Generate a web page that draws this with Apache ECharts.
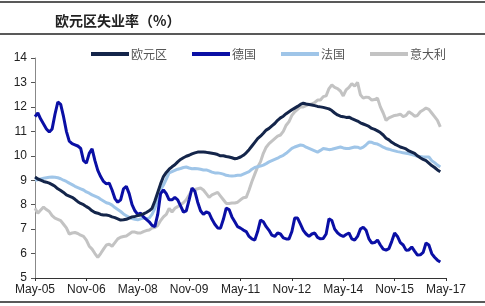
<!DOCTYPE html>
<html>
<head>
<meta charset="utf-8">
<script src="https://cdn.jsdelivr.net/npm/echarts@6/dist/echarts.min.js"></script>
<style>
  html, body { margin: 0; padding: 0; background: #fff; }
  #chart { width: 485px; height: 306px; }
</style>
</head>
<body>
<div id="chart"></div>
<script>
// 月度数据：2005年5月 起
const tickLabels = ['May-05', 'Nov-06', 'May-08', 'Nov-09', 'May-11', 'Nov-12', 'May-14', 'Nov-15', 'May-17']
const seriesNames = ['欧元区', '德国', '法国', '意大利']

const euroArea = [
  9.13, 9.05, 9.0, 8.95, 8.92, 8.88, 8.82, 8.75, 8.65, 8.58, 8.5, 8.4, 8.35, 8.3, 8.22, 8.12, 8.05, 8.0, 7.92, 7.85,
  7.75, 7.68, 7.65, 7.6, 7.58, 7.58, 7.55, 7.5, 7.47, 7.42, 7.37, 7.38, 7.4, 7.45, 7.5, 7.52, 7.55, 7.58, 7.62, 7.68,
  7.75, 7.85, 8.15, 8.5, 8.85, 9.15, 9.32, 9.45, 9.55, 9.63, 9.75, 9.85, 9.92, 9.98, 10.02, 10.08, 10.12, 10.15, 10.15, 10.15,
  10.14, 10.12, 10.1, 10.08, 10.05, 10.0, 10.0, 9.97, 9.95, 9.92, 9.88, 9.9, 9.95, 10.02, 10.12, 10.25, 10.4, 10.55, 10.7, 10.8,
  10.92, 11.05, 11.12, 11.22, 11.32, 11.45, 11.55, 11.62, 11.72, 11.8, 11.88, 11.95, 12.02, 12.1, 12.15, 12.12, 12.1, 12.08, 12.05, 12.02,
  12.0, 11.98, 11.95, 11.92, 11.85, 11.75, 11.67, 11.62, 11.6, 11.57, 11.58, 11.52, 11.47, 11.42, 11.35, 11.3, 11.25, 11.2, 11.12, 11.08,
  11.02, 10.95, 10.85, 10.72, 10.65, 10.55, 10.48, 10.42, 10.36, 10.32, 10.28, 10.2, 10.15, 10.1, 10.0, 9.92, 9.85, 9.8, 9.7, 9.6,
  9.52, 9.42, 9.35
]

const germany = [
  11.6, 11.75, 11.5, 11.3, 11.1, 10.97, 11.1, 11.7, 12.2, 12.1, 11.6, 11.0, 10.6, 10.5, 10.45, 10.4, 10.3, 9.8, 9.7, 10.1,
  10.28, 9.8, 9.4, 9.15, 8.95, 8.85, 8.88, 8.6, 8.25, 8.1, 8.2, 8.65, 8.75, 8.45, 8.0, 7.75, 7.6, 7.65, 7.5, 7.4,
  7.3, 7.15, 7.1, 7.6, 8.45, 8.6, 8.45, 8.2, 8.2, 8.3, 8.2, 7.95, 7.7, 7.75, 8.2, 8.68, 8.55, 8.1, 7.75, 7.6,
  7.7, 7.65, 7.4, 7.2, 7.05, 7.04, 7.4, 7.86, 7.8, 7.5, 7.3, 7.1, 7.04, 6.96, 6.9, 6.7, 6.6, 6.55, 6.9, 7.37,
  7.3, 7.1, 6.95, 6.75, 6.7, 6.84, 6.8, 6.64, 6.6, 6.6, 6.9, 7.45, 7.45, 7.2, 6.95, 6.8, 6.7, 6.8, 6.84, 6.66,
  6.6, 6.62, 6.8, 7.42, 7.35, 7.0, 6.85, 6.75, 6.7, 6.78, 6.84, 6.6, 6.55, 6.7, 7.0, 7.08, 6.95, 6.6, 6.43, 6.45,
  6.55, 6.35, 6.18, 6.14, 6.2, 6.5, 6.84, 6.7, 6.45, 6.35, 6.14, 6.15, 6.27, 6.1, 5.94, 5.95, 6.05, 6.43, 6.35, 6.0,
  5.85, 5.73, 5.65
]

const france = [
  9.0, 9.02, 9.05, 9.08, 9.1, 9.12, 9.13, 9.12, 9.1, 9.06, 9.0, 8.95, 8.88, 8.82, 8.75, 8.7, 8.65, 8.6, 8.52, 8.47,
  8.4, 8.35, 8.3, 8.22, 8.15, 8.08, 8.05, 7.98, 7.88, 7.8, 7.72, 7.62, 7.55, 7.48, 7.43, 7.4, 7.38, 7.42, 7.45, 7.43,
  7.45, 7.6, 7.85, 8.2, 8.6, 8.8, 9.05, 9.3, 9.35, 9.4, 9.45, 9.48, 9.52, 9.54, 9.5, 9.47, 9.48, 9.47, 9.45, 9.42,
  9.42, 9.38, 9.33, 9.3, 9.3, 9.28, 9.25, 9.2, 9.18, 9.17, 9.18, 9.2, 9.2, 9.25, 9.3, 9.35, 9.45, 9.52, 9.55, 9.58,
  9.62, 9.68, 9.75, 9.8, 9.85, 9.9, 9.97, 10.02, 10.1, 10.2, 10.3, 10.36, 10.4, 10.44, 10.42, 10.35, 10.3, 10.25, 10.2, 10.15,
  10.22, 10.3, 10.28, 10.25, 10.27, 10.3, 10.33, 10.36, 10.32, 10.3, 10.3, 10.33, 10.36, 10.35, 10.3, 10.35, 10.45, 10.56, 10.55, 10.5,
  10.48, 10.42, 10.35, 10.3, 10.27, 10.23, 10.2, 10.17, 10.15, 10.12, 10.1, 10.08, 10.05, 10.02, 9.98, 9.97, 9.95, 9.95, 9.95, 9.8,
  9.72, 9.62, 9.54
]

const italy = [
  7.85, 7.65, 7.78, 7.9, 7.8, 7.72, 7.55, 7.45, 7.4, 7.35, 7.2, 7.05, 6.8, 6.84, 6.86, 6.82, 6.75, 6.7, 6.55, 6.3,
  6.18, 6.0, 5.84, 6.0, 6.18, 6.35, 6.38, 6.3, 6.45, 6.6, 6.67, 6.7, 6.72, 6.8, 6.88, 6.88, 6.84, 6.84, 6.9, 6.94,
  6.96, 7.04, 7.06, 7.15, 7.35, 7.5, 7.6, 7.85, 7.7, 7.85, 7.92, 8.0, 8.08, 8.2, 8.4, 8.6, 8.62, 8.65, 8.68, 8.6,
  8.45, 8.3, 8.4, 8.45, 8.5, 8.35, 8.2, 8.05, 8.05, 8.07, 8.07, 8.1, 8.2, 8.28, 8.3, 8.6, 8.95, 9.25, 9.54, 9.75,
  10.1, 10.35, 10.5, 10.6, 10.7, 10.8, 10.85, 11.0, 11.25, 11.4, 11.65, 11.8, 11.9, 12.0, 12.0, 12.05, 12.1, 12.12, 12.18, 12.28,
  12.28, 12.42, 12.45, 12.75, 12.9, 12.8, 12.75, 12.65, 12.45, 12.7, 12.8, 12.95, 12.85, 13.0, 12.5, 12.36, 12.4, 12.38, 12.28, 12.3,
  12.36, 12.0, 11.75, 11.45, 11.55, 11.6, 11.65, 11.67, 11.7, 11.6, 11.65, 11.8, 11.72, 11.62, 11.65, 11.8, 11.87, 11.95, 11.9, 11.75,
  11.6, 11.45, 11.18
]

// 月份类目（May-05 ~ May-17）
const monthAbbr = ['Jan', 'Feb', 'Mar', 'Apr', 'May', 'Jun', 'Jul', 'Aug', 'Sep', 'Oct', 'Nov', 'Dec']
const months = []
for (let i = 0; i <= 144; i++) {
  const k = 4 + i
  const yy = 5 + Math.floor(k / 12)
  months.push(monthAbbr[k % 12] + '-' + String(yy).padStart(2, '0'))
}

// 欧元区 / 德国 / 法国 / 意大利
const colors = ['#14254a', '#0a0fa5', '#9fc5e8', '#c3c3c3']
const font = 'Liberation Sans, Arial, sans-serif'

function lineSeries(idx, data, z) {
  return {
    name: seriesNames[idx],
    type: 'line',
    data: data,
    z: z,
    showSymbol: false,
    symbol: 'none',
    itemStyle: { color: colors[idx] },
    lineStyle: { width: 3, color: colors[idx] }
  }
}

const myChart = echarts.init(document.getElementById('chart'))
const option = {
  backgroundColor: '#fff',
  animation: false,
  title: {
    text: '欧元区失业率（%）',
    left: 50,
    top: 9,
    textStyle: {
      fontFamily: 'Noto Sans CJK SC',
      fontSize: 14,
      fontWeight: 'bold',
      color: '#222'
    }
  },
  graphic: [
    { type: 'line', shape: { x1: 0, y1: 2, x2: 485, y2: 2 }, style: { stroke: '#222', lineWidth: 1.5 } },
    { type: 'line', shape: { x1: 0, y1: 34, x2: 485, y2: 34 }, style: { stroke: '#222', lineWidth: 1.5 } },
    { type: 'line', shape: { x1: 0, y1: 302, x2: 485, y2: 302 }, style: { stroke: '#222', lineWidth: 1.5 } }
  ],
  legend: {
    data: seriesNames,
    top: 43,
    left: 86,
    icon: 'rect',
    itemWidth: 38,
    itemHeight: 4,
    itemGap: 25,
    textStyle: {
      fontFamily: 'Noto Sans CJK SC',
      fontSize: 12,
      color: '#555',
      padding: [0, 0, 0, -3]
    }
  },
  grid: {
    left: 35,
    right: 39,
    top: 58,
    bottom: 28
  },
  xAxis: {
    type: 'category',
    boundaryGap: false,
    data: months,
    axisLine: { lineStyle: { color: '#333', width: 1 } },
    axisTick: { interval: 17, length: 3, lineStyle: { color: '#333' } },
    axisLabel: {
      interval: 17,
      fontFamily: font,
      fontSize: 12,
      color: '#222',
      margin: 6,
      formatter: function (v) {
        return tickLabels.indexOf(v) >= 0 ? v : ''
      }
    }
  },
  yAxis: {
    type: 'value',
    min: 5,
    max: 14,
    interval: 1,
    splitLine: { show: false },
    axisLine: { show: true, lineStyle: { color: '#888' } },
    axisTick: { show: true, length: 4, lineStyle: { color: '#555' } },
    axisLabel: { fontFamily: font, fontSize: 12, color: '#222', margin: 8 }
  },
  series: [
    lineSeries(3, italy, 1),
    lineSeries(2, france, 2),
    lineSeries(1, germany, 3),
    lineSeries(0, euroArea, 4)
  ]
}
option && myChart.setOption(option)
</script>
</body>
</html>
